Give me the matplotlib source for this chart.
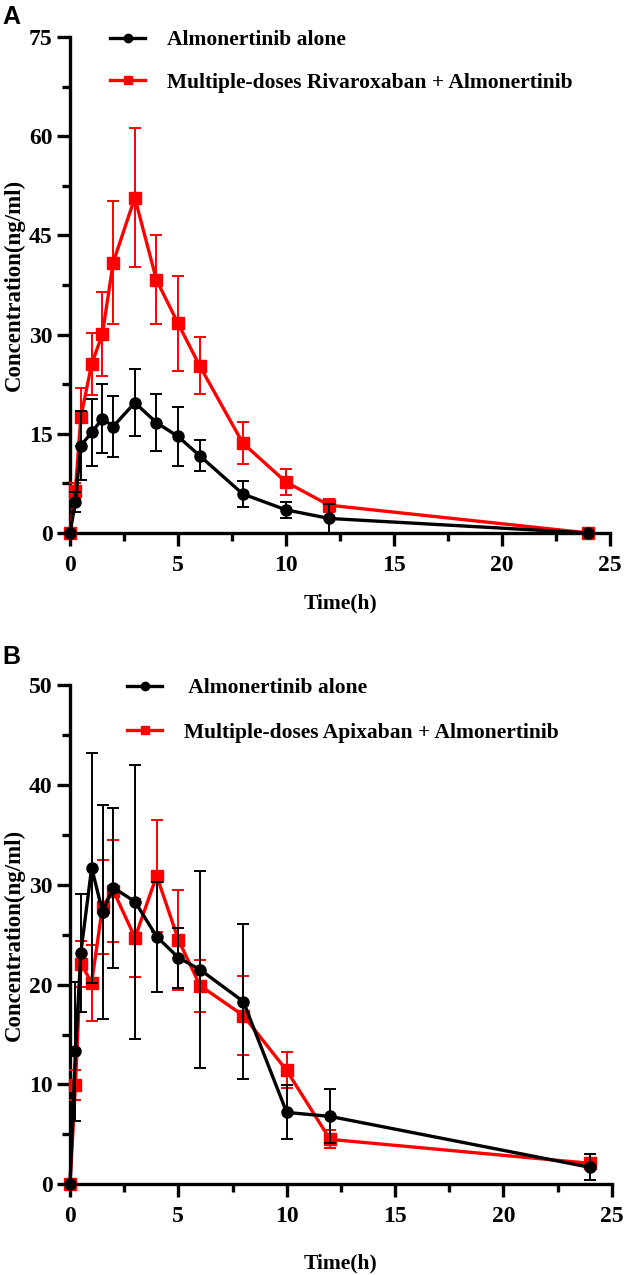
import numpy as np
import matplotlib
matplotlib.use("Agg")
import matplotlib.pyplot as plt
from matplotlib.ticker import MultipleLocator
from matplotlib.lines import Line2D

plt.rcParams["font.family"] = ["Liberation Serif", "DejaVu Serif"]
plt.rcParams["font.weight"] = "bold"

# panel A data
time_a = [0, 0.25, 0.5, 1, 1.5, 2, 3, 4, 5, 6, 8, 10, 12, 24]
alone_a = [0, 4.7, 13.2, 15.2, 17.3, 16.1, 19.7, 16.7, 14.6, 11.7, 5.9, 3.5, 2.2, 0]
alone_a_sd = [0, 1.5, 5.2, 5.0, 5.2, 4.6, 5.1, 4.3, 4.4, 2.4, 2.0, 1.2, 2.2, 0]
riva_a = [0, 6.4, 17.5, 25.5, 30.1, 40.9, 50.7, 38.3, 31.7, 25.3, 13.6, 7.7, 4.2, 0]
riva_a_sd = [0, 1.2, 4.4, 4.7, 6.4, 9.3, 10.5, 6.7, 7.2, 4.3, 3.2, 2.0, 1.0, 0]

# panel B data
time_b = [0, 0.25, 0.5, 1, 1.5, 2, 3, 4, 5, 6, 8, 10, 12, 24]
alone_b = [0, 13.3, 23.2, 31.7, 27.3, 29.7, 28.3, 24.8, 22.7, 21.5, 18.3, 7.2, 6.8, 1.7]
alone_b_sd = [0, 7.0, 5.9, 11.5, 10.7, 8.0, 13.7, 5.5, 3.0, 9.9, 7.8, 2.7, 2.7, 1.3]
apix_b = [0, 9.9, 22.1, 20.2, 27.8, 29.4, 24.7, 30.9, 24.5, 19.9, 16.9, 11.4, 4.5, 2.1]
apix_b_sd = [0, 1.5, 2.3, 3.8, 4.7, 5.1, 3.9, 5.6, 5.0, 2.6, 4.0, 1.8, 0.9, 0.5]

labels_a = ["Almonertinib alone", "Multiple-doses Rivaroxaban + Almonertinib"]
labels_b = [" Almonertinib alone", "Multiple-doses Apixaban + Almonertinib"]

RED = "#ff0000"
fig = plt.figure(figsize=(6.24, 12.75), dpi=100)


def panel(ax, t, m1, s1, m2, s2, labels, ymax, ystep, leg_anchor, leg_space, xpad):
    ax.errorbar(t, m2, yerr=s2, color=RED, marker="s", markersize=8,
                linewidth=2.4, elinewidth=1.4, capsize=4, capthick=1.4,
                clip_on=False, zorder=3)
    ax.errorbar(t, m1, yerr=s1, color="black", marker="o", markersize=8,
                linewidth=2.4, elinewidth=1.4, capsize=4, capthick=1.4,
                clip_on=False, zorder=4)
    ax.set_xlim(0, 25)
    ax.set_ylim(0, ymax)
    ax.xaxis.set_major_locator(MultipleLocator(5))
    ax.xaxis.set_minor_locator(MultipleLocator(2.5))
    ax.yaxis.set_major_locator(MultipleLocator(ystep))
    ax.yaxis.set_minor_locator(MultipleLocator(ystep / 2))
    for s in ["top", "right"]:
        ax.spines[s].set_visible(False)
    for s in ["left", "bottom"]:
        ax.spines[s].set_linewidth(2.4)
    ax.tick_params(which="major", length=9.5, width=2.4, labelsize=17, pad=3)
    ax.tick_params(axis="x", which="major", pad=6)
    ax.tick_params(which="minor", length=6, width=2.4)
    ax.set_xlabel("Time(h)", fontsize=15.5, fontweight="bold", labelpad=xpad)
    ax.set_ylabel("Concentration(ng/ml)", fontsize=16.5, fontweight="bold", labelpad=3)
    handles = [Line2D([], [], color="black", marker="o", markersize=6, linewidth=2.4),
               Line2D([], [], color=RED, marker="s", markersize=6, linewidth=2.4)]
    ax.legend(handles, labels, loc="upper left", bbox_to_anchor=leg_anchor,
              frameon=False, handlelength=1.65, borderpad=0, borderaxespad=0,
              labelspacing=leg_space, handletextpad=1.0,
              prop={"weight": "bold", "size": 15.5})


ax_a = fig.add_axes([70 / 624, 1 - 533 / 1275, 540 / 624, 496 / 1275])
panel(ax_a, time_a, alone_a, alone_a_sd, riva_a, riva_a_sd, labels_a, 75, 15,
      (0.074, 1.014), 1.05, 13)
ax_b = fig.add_axes([70 / 624, 1 - 1184.3 / 1275, 541.7 / 624, 499.3 / 1275])
panel(ax_b, time_b, alone_b, alone_b_sd, apix_b, apix_b_sd, labels_b, 50, 10,
      (0.105, 1.014), 1.15, 19)

fig.text(0.004, 1 - 17 / 1275, "A", fontsize=18, fontweight="bold",
         family="Liberation Sans", va="center")
fig.text(0.004, 1 - 657 / 1275, "B", fontsize=18, fontweight="bold",
         family="Liberation Sans", va="center")

fig.savefig("out.png", dpi=100)
